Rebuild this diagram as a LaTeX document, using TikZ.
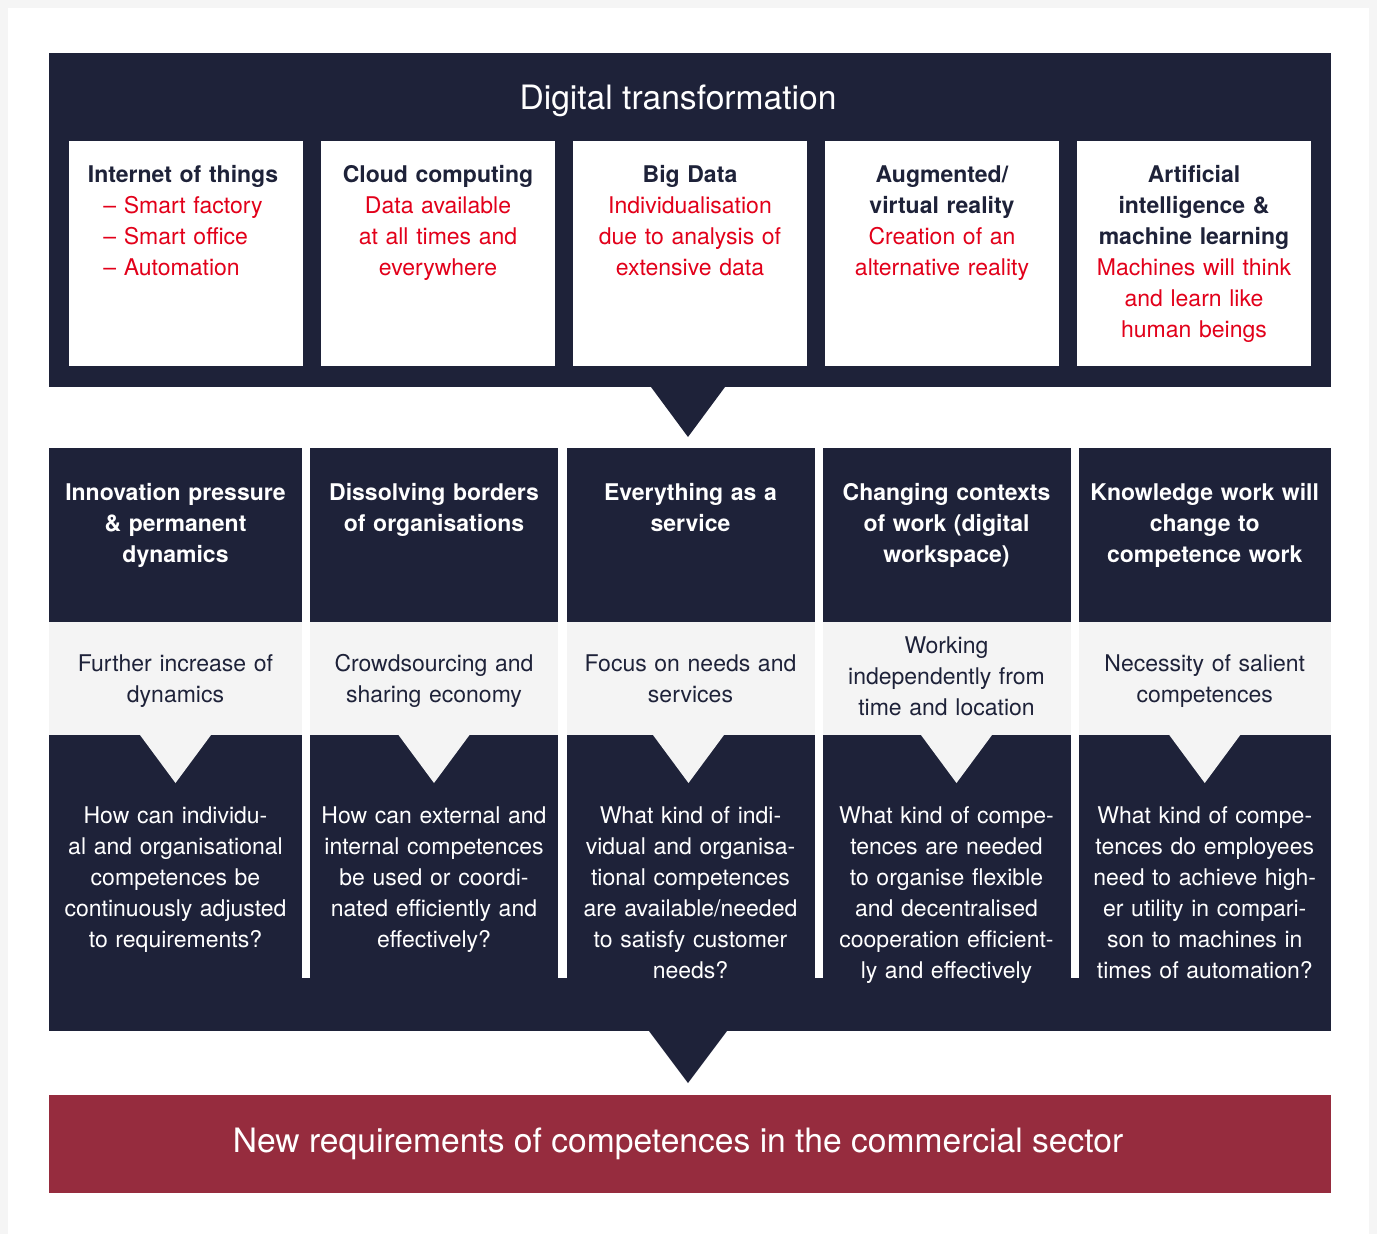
\documentclass[tikz,border=0pt]{standalone}
\usepackage{fontspec}
\setmainfont{TeX Gyre Heros}
\usetikzlibrary{positioning}
\definecolor{dtnavy}{HTML}{1E2239}
\definecolor{dtred}{HTML}{E2001A}
\definecolor{dtwine}{HTML}{962C3E}
\definecolor{dtgrey}{HTML}{F4F4F4}
\definecolor{dtframe}{HTML}{F5F5F5}
\newcommand{\dtsize}{\fontsize{23}{31}\selectfont}
\newcommand{\dtbig}{\fontsize{33.6}{40}\selectfont}

\begin{document}
\begin{tikzpicture}[x=1pt,y=-1pt,
  block/.style={inner sep=0pt,outer sep=0pt,anchor=north west},
  navy/.style={block,fill=dtnavy},
  card/.style={block,fill=white,minimum width=234,minimum height=225},
  words/.style={anchor=base,align=center,text width=250pt,inner sep=0pt,font=\dtsize},
  cardtext/.style={words,text=dtnavy},
  headtext/.style={words,text=white,font=\dtsize\bfseries},
  asktext/.style={words,text=white}]
\useasboundingbox (0,0) rectangle (1377,1234);
% frame
\fill[dtframe] (0,0) rectangle (1377,1234);
\fill[white] (8,8) rectangle (1369,1234);

% digital transformation panel
\node[navy,minimum width=1282,minimum height=334] (digital) at (49,53) {};
\node[anchor=base,inner sep=0pt,text=white,font=\dtbig] (digital title) at (678,109) {Digital transformation};
\node[card] (iot) at (69,141) {};
\node[card,right=18pt of iot] (cloud) {};
\node[card,right=18pt of cloud] (bigdata) {};
\node[card,right=18pt of bigdata] (vr) {};
\node[card,right=18pt of vr] (ai) {};

\node[cardtext] (iot text) at ([xshift=-3pt,yshift=-41pt]iot.north) {\textbf{Internet of things}\\\color{dtred}\begin{tabular}[t]{@{}l@{}}– Smart factory\\– Smart office\\– Automation\end{tabular}};
\node[cardtext] (cloud text) at ([yshift=-41pt]cloud.north) {\textbf{Cloud computing}\\\color{dtred}Data available\\at all times and\\everywhere};
\node[cardtext] (bigdata text) at ([yshift=-41pt]bigdata.north) {\textbf{Big Data}\\\color{dtred}Individualisation\\due to analysis of\\extensive data};
\node[cardtext] (vr text) at ([yshift=-41pt]vr.north) {\textbf{Augmented/}\\\textbf{virtual reality}\\\color{dtred}Creation of an\\alternative reality};
\node[cardtext] (ai text) at ([yshift=-41pt]ai.north) {\textbf{Artificial}\\\textbf{intelligence \&}\\\textbf{machine learning}\\\color{dtred}Machines will think\\and learn like\\human beings};

\fill[dtnavy] ([xshift=-39pt]digital.south) -- ([xshift=35pt]digital.south) -- ([xshift=-2pt,yshift=-50pt]digital.south) -- cycle;

% five columns
\foreach \c/\l/\w/\o in {1/49/253/0,2/310/248/0,3/566.5/248/-2,4/822.5/248/10,5/1078.5/252.5/0}{
  \node[navy,minimum width=\w,minimum height=173.5] (head\c) at (\l,448) {};
  \node[block,fill=dtgrey,minimum width=\w,minimum height=113.5,below=0pt of head\c] (need\c) {};
  \node[navy,minimum width=\w,minimum height=243,below=0pt of need\c] (ask\c) {};
  \fill[dtgrey] ([xshift=\o pt-35.5pt]ask\c.north) -- ([xshift=\o pt+35.5pt]ask\c.north) -- ([xshift=\o pt,yshift=-48pt]ask\c.north) -- cycle;
}
\node[navy,minimum width=1282,minimum height=53] (base) at (49,978) {};

\node[headtext] (head1 text) at ([yshift=-52pt]head1.north) {Innovation pressure\\\& permanent\\dynamics};
\node[headtext] (head2 text) at ([yshift=-52pt]head2.north) {Dissolving borders\\of organisations};
\node[headtext] (head3 text) at ([yshift=-52pt]head3.north) {Everything as a\\service};
\node[headtext] (head4 text) at ([yshift=-52pt]head4.north) {Changing contexts\\of work (digital\\workspace)};
\node[headtext] (head5 text) at ([yshift=-52pt]head5.north) {Knowledge work will\\change to\\competence work};

\node[cardtext] (need1 text) at ([yshift=-49.5pt]need1.north) {Further increase of\\dynamics};
\node[cardtext] (need2 text) at ([yshift=-49.5pt]need2.north) {Crowdsourcing and\\sharing economy};
\node[cardtext] (need3 text) at ([yshift=-49.5pt]need3.north) {Focus on needs and\\services};
\node[cardtext] (need4 text) at ([yshift=-31.5pt]need4.north) {Working\\independently from\\time and location};
\node[cardtext] (need5 text) at ([yshift=-49.5pt]need5.north) {Necessity of salient\\competences};

\node[asktext] (ask1 text) at ([yshift=-88.5pt]ask1.north) {How can individu-\\al and organisational\\competences be\\continuously adjusted\\to requirements?};
\node[asktext] (ask2 text) at ([yshift=-88.5pt]ask2.north) {How can external and\\internal competences\\be used or coordi-\\nated efficiently and\\effectively?};
\node[asktext] (ask3 text) at ([yshift=-88.5pt]ask3.north) {What kind of indi-\\vidual and organisa-\\tional competences\\are available/needed\\to satisfy customer\\needs?};
\node[asktext] (ask4 text) at ([yshift=-88.5pt]ask4.north) {What kind of compe-\\tences are needed\\to organise flexible\\and decentralised\\cooperation efficient-\\ly and effectively};
\node[asktext] (ask5 text) at ([yshift=-88.5pt]ask5.north) {What kind of compe-\\tences do employees\\need to achieve high-\\er utility in compari-\\son to machines in\\times of automation?};

\fill[dtnavy] ([xshift=-41pt]base.south) -- ([xshift=37pt]base.south) -- ([xshift=-2pt,yshift=-52pt]base.south) -- cycle;

% result
\node[block,fill=dtwine,minimum width=1282,minimum height=98] (result) at (49,1095) {};
\node[anchor=base,inner sep=0pt,text=white,font=\dtbig] (result text) at (678,1152) {New requirements of competences in the commercial sector};
\end{tikzpicture}
\end{document}
